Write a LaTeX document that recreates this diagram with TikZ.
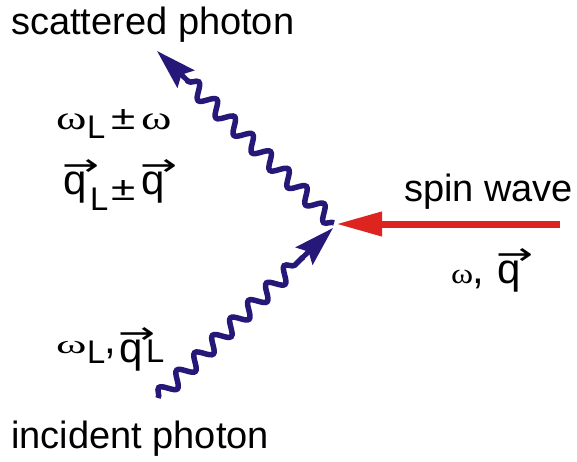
\documentclass[tikz,border=0pt]{standalone}
\usepackage{fontspec}
\setmainfont{Liberation Sans}
\newfontfamily\grk{Liberation Serif}
\newfontfamily\arr{DejaVu Sans}
\usetikzlibrary{arrows.meta,decorations.pathmorphing,calc}
\definecolor{photonblue}{RGB}{38,24,120}
\definecolor{waveRed}{RGB}{222,36,30}
\newcommand{\vq}{\leavevmode\rlap{\raisebox{19pt}{\kern-1pt\scalebox{1.05}[0.72]{\arr →}}}q}
\newcommand{\om}[2][1.1]{\scalebox{#1}[#2]{\grk ω}}
\newcommand{\subL}[1][-9pt]{\raisebox{#1}{\scalebox{0.78}{L}}}
\newcommand{\plmi}[1][0pt]{\raisebox{#1}{\scalebox{1.05}[0.8]{±}}}
\newcommand{\bx}[2]{\makebox[#1][l]{#2}}
\begin{document}
\begin{tikzpicture}[x=1pt,y=-1pt,
 title/.style={font=\fontsize{38}{40}\selectfont, anchor=base west, inner sep=0pt},
 lbl/.style={font=\fontsize{42}{44}\selectfont, anchor=base west, inner sep=0pt},
 photon/.style={draw=photonblue, line width=5.5pt, decorate, decoration={snake, amplitude=7pt, segment length=25pt}},
 phtip/.style={draw=photonblue, fill=photonblue, line width=5pt, -{Stealth[length=40pt,width=24pt,inset=6pt]}},
 spin/.style={draw=waveRed, line width=7pt, -{Triangle[length=46pt,width=23pt]}}]
\useasboundingbox (0,0) rectangle (577,462);
\coordinate (v) at (334,223);
\coordinate (st) at (157,51);
\coordinate (ip) at (158,398);
\coordinate (it) at (333,228);
\coordinate (se) at (560,224);
\coordinate (rt) at (336,224);
% photons
\draw[photon] (v) -- ($(v)!0.83!(st)$);
\draw[phtip] ($(v)!0.82!(st)$) -- (st);
\draw[photon] (ip) -- ($(ip)!0.83!(it)$);
\draw[phtip] ($(ip)!0.82!(it)$) -- (it);
% spin wave
\draw[spin] (se) -- (rt);
% labels
\node[title] (sc) at (11,35) {scattered photon};
\node[title] (in) at (11,448) {incident photon};
\node[title] (sw) at (404,201) {spin wave};
\node[lbl] (l1) at (56,130) {\bx{31pt}{\om{0.8}}\bx{24pt}{\subL}\bx{30pt}{\plmi}\om{0.8}};
\node[lbl] (l2) at (63,194) {\bx{27pt}{\vq}\bx{21pt}{\subL[-17pt]}\bx{30pt}{\plmi[-6pt]}\vq};
\node[lbl] (l3) at (56,353) {\bx{31pt}{\om{0.62}}\bx{17pt}{\subL[-10pt]}\bx{15pt}{,}\raisebox{-9pt}{\bx{27pt}{\vq}\subL[0pt]}};
\node[lbl] (l4) at (451,283) {\bx{21pt}{\om[0.8]{0.68}}\bx{25pt}{,}\vq};
\end{tikzpicture}
\end{document}
